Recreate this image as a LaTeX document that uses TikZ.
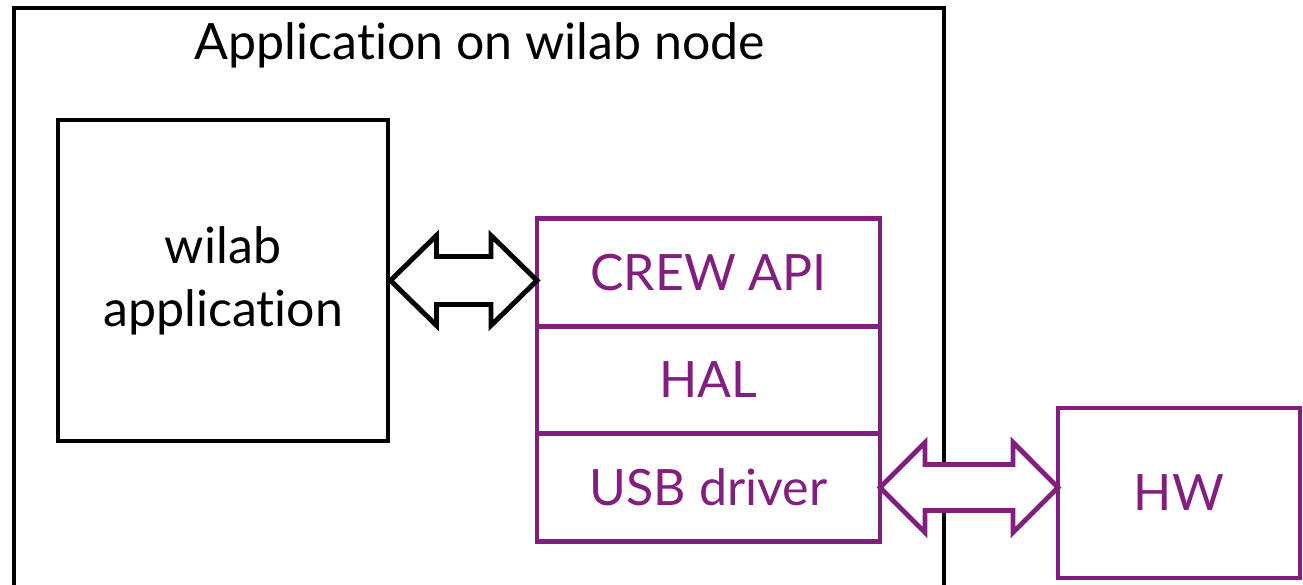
\documentclass[tikz,border=0pt]{standalone}
\usepackage{fontspec}
\setmainfont{Lato}[Ligatures={NoCommon}]
\usepackage{tikz}
\usetikzlibrary{positioning,calc}

\definecolor{crewpurple}{RGB}{130,30,125}

\begin{document}
\begin{tikzpicture}[
		every node/.style={font=\fontsize{28.5}{36}\selectfont},
		container/.style={draw,line width=2.8pt,minimum width=18.6cm,minimum height=12cm},
		appbox/.style={draw,line width=2.8pt,minimum width=6.6cm,minimum height=6.42cm,align=center},
		layer/.style={draw=crewpurple,text=crewpurple,line width=2.8pt,outer sep=0pt,minimum width=6.86cm,minimum height=2.15cm},
		blockarrow/.style={line width=2.8pt,line join=miter,fill=white},
		]
		
		\useasboundingbox (0,0) rectangle (26.06,11.7);
		\clip (0,0) rectangle (26.06,11.7);
		
		% Node frame
		\node[container] (frame) at (9.58,5.54) {};
		\node (title) at (9.6,10.8) {Application on wilab node};
		
		% Application
		\node[appbox] (app) at (4.46,6.09) {wilab\\application};
		
		% Layers
		\node[layer] (crew) at (14.17,6.25) {CREW API};
		\node[layer,below=0pt of crew] (hal) {HAL};
		\node[layer,below=0pt of hal] (usb) {USB driver};
		
		% Hardware
		\node[layer,minimum width=4.84cm,minimum height=3.4cm] (hw) at (23.58,1.84) {HW};
		
		% Arrows
		\draw[blockarrow] (app.east) -- ++(0.92,0.9) -- ++(0,-0.42)
		-- ($(crew.west |- app.east)+(-0.92,0.48)$) -- ++(0,0.42)
		-- (crew.west |- app.east) -- ++(-0.92,-0.9) -- ++(0,0.42)
		-- ($(app.east)+(0.92,-0.48)$) -- ++(0,-0.42) -- cycle;
		
		\draw[blockarrow,draw=crewpurple] (usb.east) -- ++(0.9,0.9) -- ++(0,-0.44)
		-- ($(hw.west |- usb.east)+(-0.9,0.46)$) -- ++(0,0.44)
		-- (hw.west |- usb.east) -- ++(-0.9,-0.9) -- ++(0,0.44)
		-- ($(usb.east)+(0.9,-0.46)$) -- ++(0,-0.44) -- cycle;
		
	\end{tikzpicture}
\end{document}
